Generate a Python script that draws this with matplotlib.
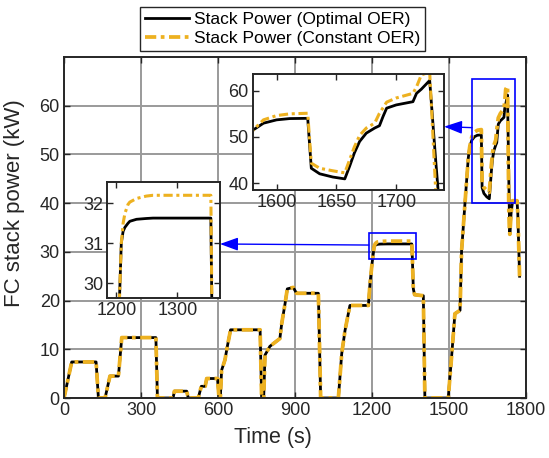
import numpy as np
import matplotlib
matplotlib.use("Agg")
import matplotlib.pyplot as plt
from matplotlib.patches import Rectangle

plt.rcParams["font.family"] = ["Liberation Sans", "DejaVu Sans"]

# time (s) and FC stack power (kW)
t = [0, 30, 125, 134, 160, 179, 212, 225, 358, 364, 425, 430, 478, 484, 523,
     535, 550, 556, 598, 604, 609, 614, 627, 636, 649, 764, 770, 778, 783,
     802, 841, 848, 861, 870, 893, 906, 991, 1000, 1069, 1082, 1095, 1114,
     1186, 1192, 1200, 1205, 1208, 1211, 1214, 1219, 1222, 1233, 1249, 1260,
     1355, 1357, 1361, 1366, 1400, 1406, 1497, 1510, 1523, 1543, 1549, 1562,
     1575, 1580.5, 1589, 1600, 1611, 1626, 1629, 1636, 1647, 1657, 1661,
     1665, 1669.4, 1675, 1682, 1686, 1689, 1692, 1700, 1714, 1717, 1721,
     1728, 1733, 1735, 1737, 1742, 1748, 1765, 1768, 1775]
p_opt = [0, 7.4, 7.4, 0, 0, 4.5, 4.5, 12.4, 12.4, 0, 0, 1.4, 1.4, 0, 0,
         2.4, 2.4, 4.0, 4.0, 0, 0, 5.7, 7.8, 10.5, 14.0, 14.0, 0, 0, 8.8,
         10.6, 12.2, 15.2, 19.3, 22.4, 22.7, 21.5, 21.5, 0, 0, 9.1, 13.9, 19.0,
         19.0, 23.4, 27.5, 29.6, 31.0, 31.3, 31.4, 31.5, 31.55, 31.6, 31.62, 31.63,
         31.63, 29.0, 22.4, 21.2, 21.0, 0, 0, 8.4, 17.3, 18.0, 30.2, 39.8,
         49.2, 51.5, 52.95, 53.67, 53.95, 54.0, 43.2, 42.0, 41.3, 40.9, 43.6,
         46.5, 49.0, 50.8, 51.9, 52.4, 54.4, 56.2, 56.9, 57.6, 59.4, 60.3,
         62.2, 45.0, 38.6, 33.6, 38.0, 40.5, 40.5, 38.0, 25.0]
p_const = [0, 7.4, 7.4, 0, 0, 4.5, 4.5, 12.4, 12.4, 0, 0, 1.4, 1.4, 0, 0,
           2.4, 2.4, 4.0, 4.0, 0, 0, 5.7, 7.8, 10.5, 14.0, 14.0, 0, 0, 8.8,
           10.6, 12.2, 15.2, 19.3, 22.4, 22.7, 21.5, 21.5, 0, 0, 9.1, 13.9, 19.0,
           19.0, 23.4, 27.5, 29.6, 31.0, 31.5, 31.75, 31.97, 32.03, 32.12, 32.18, 32.2,
           32.2, 29.0, 22.4, 21.2, 21.0, 0, 0, 8.4, 17.3, 18.0, 30.2, 39.8,
           49.2, 51.5, 53.67, 54.6, 54.97, 55.1, 44.3, 43.2, 42.65, 42.2, 45.0,
           47.8, 50.3, 51.9, 52.95, 55.1, 56.3, 57.5, 58.4, 59.4, 60.8, 63.4,
           64.0, 38.6, 35.0, 33.6, 38.0, 40.5, 40.5, 38.0, 25.0]

ORANGE = "#EDB120"
DARK = "#262626"
DASH = (0, (3, 1.2, 1, 1.2))


def style_axes(ax, fs):
    for s in ax.spines.values():
        s.set_color(DARK)
        s.set_linewidth(1.4)
    ax.tick_params(direction="in", top=True, right=True, length=4,
                   width=1.0, colors=DARK, labelsize=fs, pad=3)


fig = plt.figure(figsize=(5.49, 4.58), dpi=100)
ax = fig.add_axes([0.1166, 0.131, 0.8415, 0.7445])
ax.plot(t, p_opt, color="black", lw=2.0, label="Stack Power (Optimal OER)")
ax.plot(t, p_const, color=ORANGE, lw=2.7, ls=DASH, label="Stack Power (Constant OER)")
ax.set_xlim(0, 1800)
ax.set_ylim(0, 70)
ax.set_xticks(np.arange(0, 1801, 300))
ax.set_yticks(np.arange(0, 61, 10))
ax.grid(True, color="#9a9a9a", lw=1.4)
ax.set_axisbelow(True)
style_axes(ax, 13)
ax.set_xlabel("Time (s)", fontsize=15.5, color=DARK, labelpad=1)
ax.set_ylabel("FC stack power (kW)", fontsize=16, color=DARK, labelpad=3)
ax.xaxis.set_label_coords(0.452, -0.085)
ax.yaxis.set_label_coords(-0.085, 0.572)

# zoom boxes on the main axes
ax.add_patch(Rectangle((1188, 28.6), 183, 5.3, fill=False, ec="blue", lw=1.2, zorder=5))
ax.add_patch(Rectangle((1590, 40.1), 167, 25.3, fill=False, ec="blue", lw=1.2, zorder=5))

# inset 1: 1580-1740 s
ax1 = fig.add_axes([0.4603, 0.5852, 0.3485, 0.2533])
ax1.plot(t, p_opt, color="black", lw=2.0)
ax1.plot(t, p_const, color=ORANGE, lw=2.2, ls=DASH)
ax1.set_xlim(1580, 1740)
ax1.set_ylim(38.5, 63.6)
ax1.set_xticks([1600, 1650, 1700])
ax1.set_yticks([40, 50, 60])
style_axes(ax1, 13)

# inset 2: 1185-1370 s
ax2 = fig.add_axes([0.1954, 0.35, 0.2053, 0.2533])
ax2.plot(t, p_opt, color="black", lw=2.0)
ax2.plot(t, p_const, color=ORANGE, lw=2.2, ls=DASH)
ax2.set_xlim(1185, 1370)
ax2.set_ylim(29.64, 32.54)
ax2.set_xticks([1200, 1300])
ax2.set_yticks([30, 31, 32])
style_axes(ax2, 13)

arrow = dict(arrowstyle="-|>,head_length=1.1,head_width=0.4", color="blue",
             lw=1.0, shrinkA=0, shrinkB=0, mutation_scale=10)
ax.annotate("", xy=(1.0, 0.546), xycoords=ax1, xytext=(1590, 55.5),
            textcoords="data", arrowprops=arrow, annotation_clip=False)
ax.annotate("", xy=(1.0, 0.463), xycoords=ax2, xytext=(1188, 31.4),
            textcoords="data", arrowprops=arrow, annotation_clip=False)

leg = fig.legend(loc="upper left", bbox_to_anchor=(140 / 549, 1 - 7 / 458),
                 bbox_transform=fig.transFigure, borderaxespad=0, fontsize=12.5,
                 handlelength=2.5, handletextpad=0.3, labelspacing=0.2,
                 borderpad=0.3, fancybox=False, framealpha=1)
leg.get_frame().set_edgecolor(DARK)
leg.get_frame().set_linewidth(1.0)

fig.savefig("out.png", dpi=100)
